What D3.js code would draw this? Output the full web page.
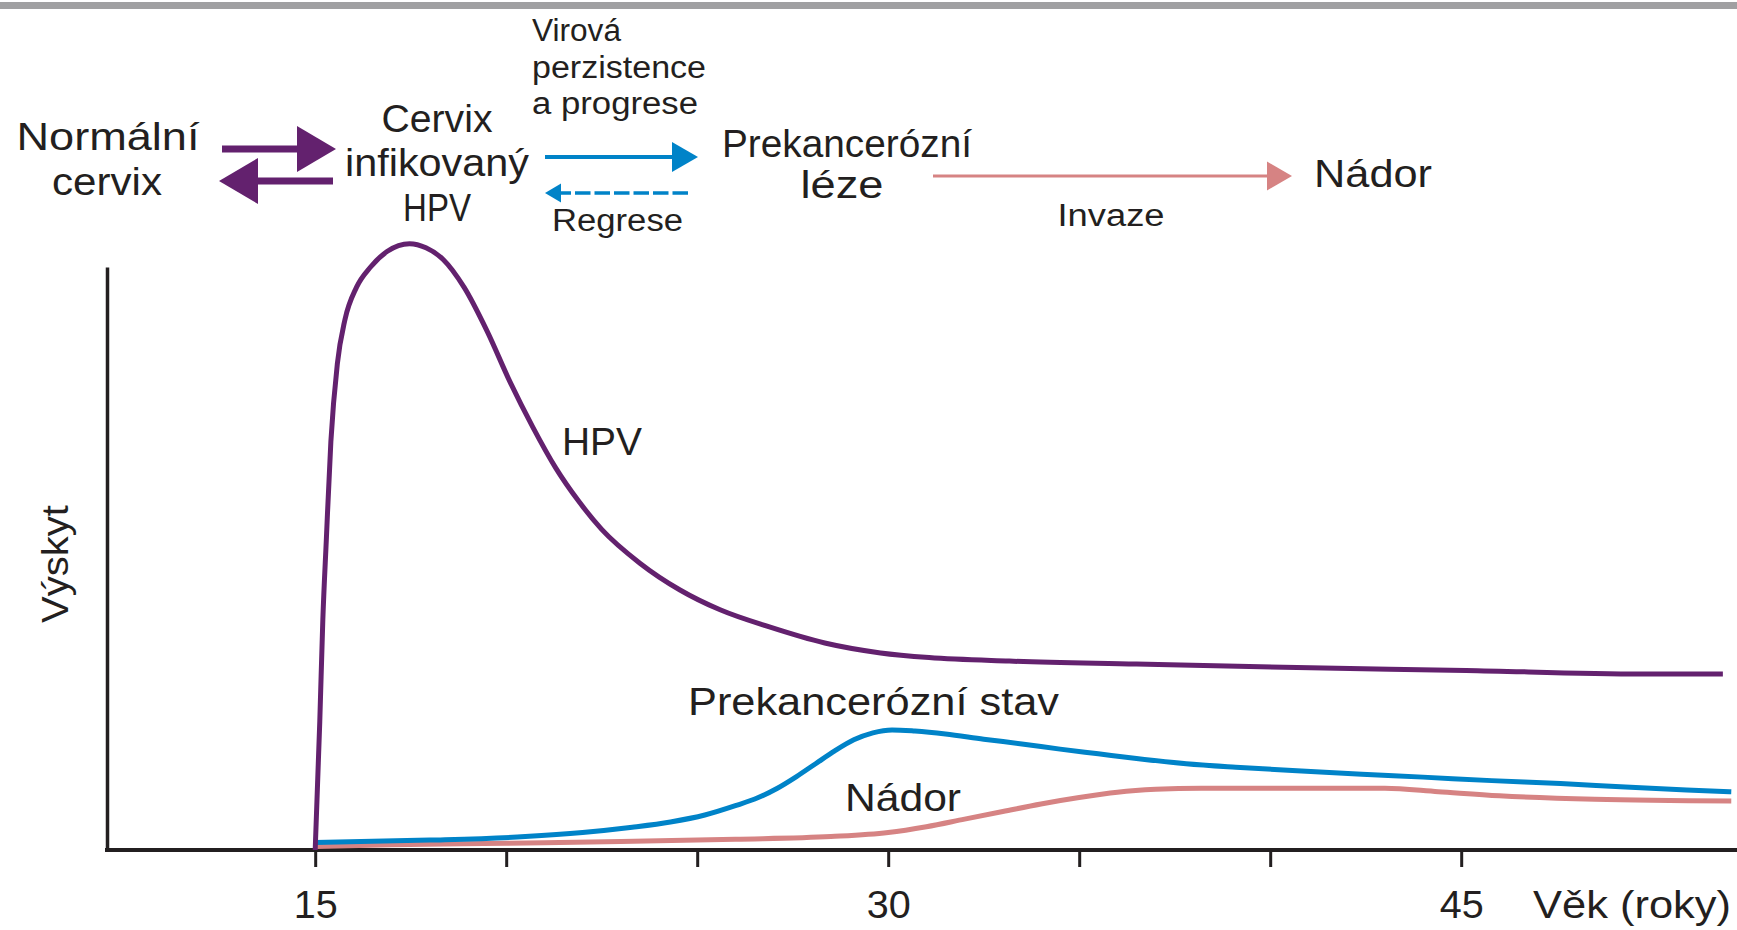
<!DOCTYPE html>
<html>
<head>
<meta charset="utf-8">
<script src="https://cdn.jsdelivr.net/npm/d3@7/dist/d3.min.js"></script>
<style>
  html, body { margin: 0; padding: 0; background: #fff; }
  svg { display: block; }
  text { font-family: "Liberation Sans", Arial, sans-serif; fill: #231f20; }
</style>
</head>
<body>
<svg id="chart" width="1737" height="930"></svg>
<script>
// Age (years) and relative occurrence for each stage
const hpvAge = [15.0, 15.12, 15.2, 15.29, 15.41, 15.58, 15.78, 16.08, 16.45, 16.89, 17.47, 17.9, 18.35, 18.9, 19.5, 20.1, 20.7, 21.3, 21.9, 22.5, 23.5, 24.55, 25.6, 26.87, 28.34, 29.8, 31.07, 33.17, 36.5, 40.7, 45.13, 49.74, 51.85];
const hpvValue = [0, 22, 39.5, 53, 70, 83.4, 91, 96.5, 100, 102.7, 104, 103.3, 101.3, 96.5, 89, 80.3, 72.5, 65.5, 59.8, 55, 49.2, 44.6, 41.2, 38.3, 35.5, 33.8, 33.0, 32.4, 31.9, 31.3, 30.8, 30.2, 30.2];

const precAge = [15.0, 18.0, 20.5, 22.0, 23.3, 24.3, 25.2, 26.0, 26.6, 27.1, 27.6, 28.1, 28.6, 29.1, 29.6, 30.1, 30.7, 31.5, 32.5, 33.5, 34.5, 35.5, 36.5, 37.8, 39.1, 40.7, 42.4, 44.0, 45.8, 47.6, 49.3, 50.9, 52.07];
const precValue = [1.3, 1.7, 2.3, 3.0, 3.9, 4.8, 6.0, 7.6, 9.0, 10.6, 12.6, 14.8, 17.0, 18.9, 20.1, 20.6, 20.4, 19.9, 19.0, 18.2, 17.3, 16.5, 15.7, 14.8, 14.2, 13.6, 13.0, 12.5, 11.9, 11.4, 10.8, 10.3, 10.0];

const tumorAge = [15.0, 17.0, 20.0, 23.0, 26.0, 28.5, 30.0, 31.0, 32.0, 33.0, 34.0, 35.0, 36.0, 37.0, 38.2, 43.0, 44.4, 46.0, 48.5, 52.07];
const tumorValue = [0.6, 0.9, 1.15, 1.45, 1.85, 2.3, 3.0, 4.0, 5.3, 6.6, 7.9, 9.0, 9.9, 10.4, 10.6, 10.6, 10.0, 9.3, 8.7, 8.4];

const tickAges = [15, 20, 25, 30, 35, 40, 45];
const labelledAges = [15, 30, 45];

const colors = { hpv: "#63216e", prec: "#0083c8", tumor: "#d68383", ink: "#231f20" };

const svg = d3.select("#chart");

// thin grey rule along the top edge
svg.append("rect").attr("x", 0).attr("y", 2).attr("width", 1737).attr("height", 7).attr("fill", "#a0a0a2");

const x = d3.scaleLinear().domain([9.55, 52.22]).range([107, 1737]);
const y = d3.scaleLinear().domain([0, 100]).range([850, 267]);

// axes
const xAxis = d3.axisBottom(x)
  .tickValues(tickAges)
  .tickSize(17)
  .tickSizeOuter(0)
  .tickPadding(24)
  .tickFormat(d => labelledAges.includes(d) ? String(d) : "");
const gx = svg.append("g").attr("transform", `translate(0,${y(0)})`).call(xAxis);
gx.select(".domain").attr("stroke", colors.ink).attr("stroke-width", 4).attr("d", `M${x.range()[0] - 2},0H${x.range()[1]}`);
gx.selectAll(".tick line").attr("stroke", colors.ink).attr("stroke-width", 3);
gx.selectAll(".tick text").attr("font-size", 38).attr("fill", colors.ink)
  .attr("font-family", "'Liberation Sans', Arial, sans-serif")
  .attr("textLength", d => labelledAges.includes(d) ? 44 : null)
  .attr("lengthAdjust", "spacingAndGlyphs");

const yAxis = d3.axisLeft(y).tickValues([]).tickSizeOuter(0);
const gy = svg.append("g").attr("transform", `translate(${x.range()[0]},0)`).call(yAxis);
gy.select(".domain").attr("stroke", colors.ink).attr("stroke-width", 3.5);

// text helper: fixed size and set width
function label(t, tx, ty, fs, width, anchor, transform) {
  const el = svg.append("text")
    .attr("font-size", fs)
    .attr("text-anchor", anchor || "start")
    .attr("textLength", width)
    .attr("lengthAdjust", "spacingAndGlyphs")
    .text(t);
  if (transform) el.attr("transform", transform);
  else el.attr("x", tx).attr("y", ty);
  return el;
}

label("Věk (roky)", 1533, 918, 38, 198);
label("Výskyt", 0, 0, 37, 118, "middle", "translate(68,564) rotate(-90)");

// curves
const line = d3.line().x(d => x(d[0])).y(d => y(d[1])).curve(d3.curveMonotoneX);
const series = [
  { age: tumorAge, value: tumorValue, color: colors.tumor },
  { age: precAge, value: precValue, color: colors.prec },
  { age: hpvAge, value: hpvValue, color: colors.hpv }
];
series.forEach(s => {
  svg.append("path")
    .datum(d3.zip(s.age, s.value))
    .attr("d", line)
    .attr("fill", "none")
    .attr("stroke", s.color)
    .attr("stroke-width", 5)
    .attr("stroke-linejoin", "round");
});

// curve labels
label("HPV", 562, 455, 38, 80);
label("Prekancerózní stav", 688, 715, 38, 371);
label("Nádor", 845, 811, 38, 116);

// stage diagram
function arrow(x1, x2, yy, color, width, headLen, headHalf, dash) {
  const dir = Math.sign(x2 - x1);
  const base = x2 - dir * headLen;
  svg.append("line")
    .attr("x1", x1).attr("x2", base + dir * 2).attr("y1", yy).attr("y2", yy)
    .attr("stroke", color).attr("stroke-width", width)
    .attr("stroke-dasharray", dash || null);
  svg.append("path")
    .attr("d", `M${base},${yy - headHalf}L${x2},${yy}L${base},${yy + headHalf}Z`)
    .attr("fill", color);
}

const big = 38, small = 31;
const stageText = [
  ["Normální", 108, 150, big, 183, "middle"],
  ["cervix", 107, 195, big, 110, "middle"],
  ["Cervix", 437, 132, big, 111, "middle"],
  ["infikovaný", 437, 176, big, 184, "middle"],
  ["HPV", 437, 221, big, 68, "middle"],
  ["Virová", 532, 41, small, 89, "start"],
  ["perzistence", 532, 78, small, 174, "start"],
  ["a progrese", 532, 114, small, 166, "start"],
  ["Regrese", 552, 231, small, 131, "start"],
  ["Prekancerózní", 847, 157, big, 250, "middle"],
  ["léze", 842, 198, big, 83, "middle"],
  ["Nádor", 1314, 187, big, 118, "start"],
  ["Invaze", 1111, 226, small, 107, "middle"]
];
stageText.forEach(([t, tx, ty, fs, w, anchor]) => label(t, tx, ty, fs, w, anchor));

arrow(222, 336, 149, colors.hpv, 7, 39, 23);
arrow(333, 219, 181, colors.hpv, 7, 39, 23);
arrow(545, 698, 157, colors.prec, 4, 26, 15);
arrow(688, 545, 193, colors.prec, 3.5, 16, 9.5, "15.5,4");
arrow(933, 1292, 176, colors.tumor, 3, 25, 14.5);
</script>
</body>
</html>
